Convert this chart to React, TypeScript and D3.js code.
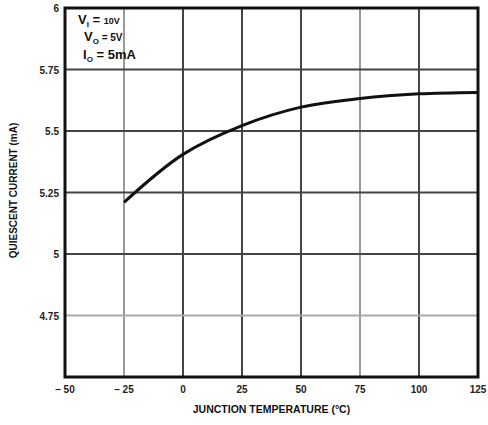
import * as d3 from "d3";

const tempTicks = [-50, -25, 0, 25, 50, 75, 100, 125];
const tempTickLabels = ["– 50", "– 25", "0", "25", "50", "75", "100", "125"];
const currentTicks = [4.5, 4.75, 5, 5.25, 5.5, 5.75, 6];
const currentTickLabels = ["", "4.75", "5", "5.25", "5.5", "5.75", "6"];

const curveTemp = [-25, 0, 25, 50, 75, 100, 125];
const curveCurrent = [5.21, 5.405, 5.522, 5.597, 5.632, 5.651, 5.657];

const W = 488;
const H = 425;
const margin = { left: 65, right: 10, top: 8, bottom: 48 };

export default function App() {
  const x = d3.scaleLinear().domain([-50, 125]).range([margin.left, W - margin.right]);
  const y = d3.scaleLinear().domain([4.5, 6]).range([H - margin.bottom, margin.top]);

  const line = d3
    .line<number>()
    .x((_, i) => x(curveTemp[i]))
    .y((d) => y(d))
    .curve(d3.curveCatmullRom.alpha(0.5));

  const font = "'Liberation Sans', Arial, sans-serif";

  return (
    <svg
      width={W}
      height={H}
      style={{ position: "absolute", left: 0, top: 0, background: "#fff" }}
      fontFamily={font}
    >
      {tempTicks.slice(1, -1).map((t) => (
        <line
          key={"v" + t}
          x1={x(t)}
          x2={x(t)}
          y1={y(6)}
          y2={y(4.5)}
          stroke={t === -25 || t === 75 ? "#999" : "#444"}
          strokeWidth={2}
        />
      ))}
      {currentTicks.slice(1, -1).map((c) => (
        <line
          key={"h" + c}
          x1={x(-50)}
          x2={x(125)}
          y1={y(c)}
          y2={y(c)}
          stroke={c === 4.75 ? "#aaa" : "#444"}
          strokeWidth={2}
        />
      ))}
      <rect
        x={x(-50)}
        y={y(6)}
        width={x(125) - x(-50)}
        height={y(4.5) - y(6)}
        fill="none"
        stroke="#111"
        strokeWidth={3}
      />
      <path d={line(curveCurrent) ?? ""} fill="none" stroke="#111" strokeWidth={3} />

      {tempTicks.map((t, i) => (
        <text
          key={"xt" + t}
          x={x(t)}
          y={y(4.5) + 16}
          textAnchor="middle"
          fontSize={10}
          fontWeight="bold"
          fill="#222"
        >
          {tempTickLabels[i]}
        </text>
      ))}
      {currentTicks.map((c, i) => (
        <text
          key={"yt" + c}
          x={x(-50) - 6}
          y={y(c) + 4}
          textAnchor="end"
          fontSize={10}
          fontWeight="bold"
          fill="#222"
        >
          {currentTickLabels[i]}
        </text>
      ))}

      <text
        x={(x(-50) + x(125)) / 2}
        y={H - 12}
        textAnchor="middle"
        fontSize={10.5}
        fontWeight="bold"
        fill="#111"
      >
        JUNCTION TEMPERATURE (°C)
      </text>
      <text
        transform={`translate(17,${(y(4.5) + y(6)) / 2 - 2}) rotate(-90)`}
        textAnchor="middle"
        fontSize={10}
        fontWeight="bold"
        fill="#111"
      >
        QUIESCENT CURRENT (mA)
      </text>

      <g fontWeight="bold" fill="#111">
        <text x={78} y={24} fontSize={13}>
          V<tspan fontSize={8} dy={3}>I</tspan>
          <tspan dy={-3} fontSize={13}> = </tspan>
          <tspan fontSize={9}>10V</tspan>
        </text>
        <text x={84} y={41} fontSize={13}>
          V<tspan fontSize={8} dy={3}>O</tspan>
          <tspan dy={-3} fontSize={10}> = 5V</tspan>
        </text>
        <text x={83} y={59} fontSize={13}>
          I<tspan fontSize={8} dy={3}>O</tspan>
          <tspan dy={-3}> = 5mA</tspan>
        </text>
      </g>
    </svg>
  );
}
